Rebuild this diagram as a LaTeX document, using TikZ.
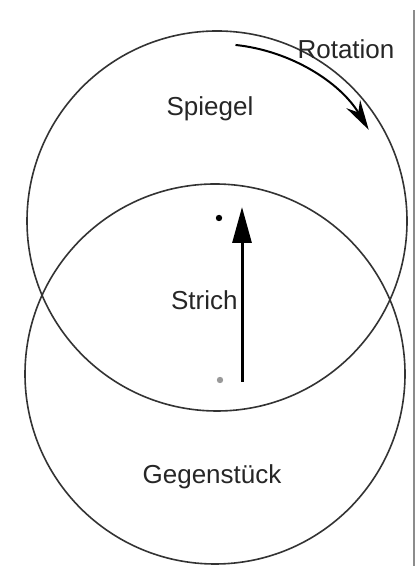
\documentclass[tikz,border=0pt]{standalone}
\usepackage{fontspec}
\setmainfont{Liberation Sans}
\usetikzlibrary{arrows.meta,positioning}
\begin{document}
\begin{tikzpicture}[x=.5pt,y=.5pt,
  ring/.style={draw=black!80,line width=.8pt},
  lbl/.style={anchor=base,font=\fontsize{13}{15}\selectfont,text=black!85,inner sep=0pt},
  dot/.style={circle,fill,inner sep=0pt,minimum size=3.2pt}]
\useasboundingbox (0,0) rectangle (418,566);
\coordinate (mSpiegel) at (217,345);
\coordinate (mGegen) at (215,192);
\draw[ring] (mSpiegel) circle (190);
\draw[ring] (mGegen) circle (190);
\draw[black!45,line width=.7pt] (414,0) -- (414,556);
\node[lbl] (rot) at (346,507) {Rotation};
\node[lbl] (spiegel) at (210,450) {Spiegel};
\node[lbl,anchor=base east] (strich) at (238,256) {Strich};
\node[lbl] (gegen) at (212,82) {Gegenst\"uck};
\node[dot,fill=black] (punktOben) at (219,348) {};
\node[dot,fill=black!40] (punktUnten) at (220,186) {};
% Rotation
\coordinate (rotA) at ([shift={(84:177)}]mSpiegel);
\draw[line width=1pt,-{Stealth[length=15pt,width=8pt]}] (rotA) arc (84:31:177);
% Strich
\coordinate (strichFuss) at (242,184);
\coordinate (strichKopf) at (242,359);
\draw[line width=1.5pt,-{Triangle[length=18pt,width=9.5pt]}] (strichFuss) -- (strichKopf);
\end{tikzpicture}
\end{document}
